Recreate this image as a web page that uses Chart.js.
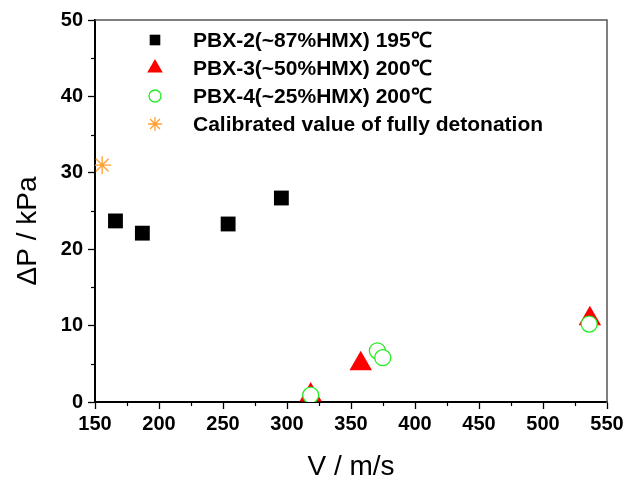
<!DOCTYPE html>
<html>
<head>
<meta charset="utf-8">
<script src="https://cdn.jsdelivr.net/npm/chart.js@4.4.1/dist/chart.umd.min.js"></script>
<style>
  html, body { margin: 0; padding: 0; background: #fff; }
</style>
</head>
<body>
<canvas id="chart" width="629" height="483"></canvas>
<script>
// values
const pbx2V = [166, 187, 254, 295.6];
const pbx2P = [23.7, 22.1, 23.3, 26.7];
const pbx3V = [318.5, 357.6, 536.6];
const pbx3P = [0.9, 5.0, 10.9];
const pbx4V = [318.5, 370.6, 374.8, 536.1];
const pbx4P = [0.9, 6.7, 5.8, 10.2];
const calibV = [155.6];
const calibP = [31.0];

const seriesLabels = [
  'PBX-2(~87%HMX) 195\u2103',
  'PBX-3(~50%HMX) 200\u2103',
  'PBX-4(~25%HMX) 200\u2103',
  'Calibrated value of fully detonation'
];
const xMinorTicks = [175, 225, 275, 325, 375, 425, 475, 525];
const yMinorTicks = [5, 15, 25, 35, 45];

const toPoints = (xs, ys) => xs.map((x, i) => ({ x: x, y: ys[i] }));

const FONT = "'Liberation Sans', Arial, sans-serif";

// minor ticks, top/right frame, axis titles, legend
const extrasPlugin = {
  id: 'extras',
  afterDraw: (chart) => {
    const ctx = chart.ctx;
    const a = chart.chartArea;
    const xs = chart.scales.x, ys = chart.scales.y;
    ctx.save();
    ctx.strokeStyle = '#000';
    ctx.lineWidth = 1.2;
    xMinorTicks.forEach(v => {
      const px = Math.round(xs.getPixelForValue(v)) + 0.5;
      ctx.beginPath(); ctx.moveTo(px, a.bottom); ctx.lineTo(px, a.bottom + 4); ctx.stroke();
    });
    yMinorTicks.forEach(v => {
      const py = Math.round(ys.getPixelForValue(v)) + 0.5;
      ctx.beginPath(); ctx.moveTo(a.left, py); ctx.lineTo(a.left - 4, py); ctx.stroke();
    });
    // top + right lines
    ctx.strokeStyle = '#555';
    ctx.lineWidth = 1.5;
    ctx.beginPath();
    ctx.moveTo(a.left, a.top);
    ctx.lineTo(a.right, a.top);
    ctx.lineTo(a.right, a.bottom + 1);
    ctx.stroke();

    // axis titles
    ctx.fillStyle = '#000';
    ctx.font = '28px ' + FONT;
    ctx.textAlign = 'center';
    ctx.textBaseline = 'middle';
    ctx.fillText('V / m/s', (a.left + a.right) / 2, 467);
    ctx.translate(28, 231);
    ctx.rotate(-Math.PI / 2);
    ctx.fillText('\u0394P / kPa', 0, 0);
    ctx.restore();

    // legend inside the plot
    const rowY = [40, 68, 96, 124];
    const legendSizes = [7.5, 9, 6, 7];
    ctx.save();
    chart.data.datasets.forEach((ds, i) => {
      ctx.fillStyle = ds.backgroundColor;
      ctx.strokeStyle = ds.borderColor;
      ctx.lineWidth = ds.borderWidth;
      Chart.helpers.drawPoint(ctx, {
        pointStyle: ds.pointStyle,
        radius: legendSizes[i],
        rotation: 0,
        borderWidth: ds.borderWidth
      }, 155, rowY[i]);
      ctx.fillStyle = '#000';
      ctx.font = 'bold 21px ' + FONT;
      ctx.textAlign = 'left';
      ctx.textBaseline = 'middle';
      ctx.fillText(ds.label, 193, rowY[i] + 1);
    });
    ctx.restore();
  }
};

const chart = new Chart(document.getElementById('chart'), {
  type: 'scatter',
  data: {
    datasets: [{
      label: seriesLabels[0],
      data: toPoints(pbx2V, pbx2P),
      pointStyle: 'rect',
      pointRadius: 10.5,
      backgroundColor: '#000',
      borderColor: '#000',
      borderWidth: 0,
      clip: 0,
      order: 1
    }, {
      label: seriesLabels[1],
      data: toPoints(pbx3V, pbx3P),
      pointStyle: 'triangle',
      pointRadius: 13,
      backgroundColor: '#ff0000',
      borderColor: '#ff0000',
      borderWidth: 0,
      clip: 0,
      order: 1
    }, {
      label: seriesLabels[2],
      data: toPoints(pbx4V, pbx4P),
      pointStyle: 'circle',
      pointRadius: 8,
      backgroundColor: '#fff',
      borderColor: '#22ee22',
      borderWidth: 1.3,
      clip: 0,
      order: 0
    }, {
      label: seriesLabels[3],
      data: toPoints(calibV, calibP),
      pointStyle: 'star',
      pointRadius: 9,
      backgroundColor: '#ffa030',
      borderColor: '#ffa030',
      borderWidth: 1.3,
      clip: 0,
      order: 1
    }]
  },
  options: {
    responsive: false,
    animation: false,
    devicePixelRatio: 1,
    layout: { padding: { top: 20, right: 22, left: 0, bottom: 0 } },
    plugins: {
      legend: { display: false },
      tooltip: { enabled: false }
    },
    scales: {
      x: {
        type: 'linear',
        min: 150,
        max: 550,
        afterFit: (s) => { s.height = 81; },
        ticks: { stepSize: 50, color: '#000', font: { family: FONT, size: 20, weight: 'bold' }, padding: 3, maxRotation: 0 },
        grid: { drawOnChartArea: false, tickLength: 7, tickColor: '#000', tickWidth: 1.3 },
        border: { color: '#000', width: 2 }
      },
      y: {
        type: 'linear',
        min: 0,
        max: 50,
        afterFit: (s) => { s.width = 95; },
        ticks: { stepSize: 10, color: '#000', font: { family: FONT, size: 20, weight: 'bold' }, padding: 5 },
        grid: { drawOnChartArea: false, tickLength: 7, tickColor: '#000', tickWidth: 1.3 },
        border: { color: '#000', width: 2 }
      }
    }
  },
  plugins: [extrasPlugin]
});
</script>
</body>
</html>
